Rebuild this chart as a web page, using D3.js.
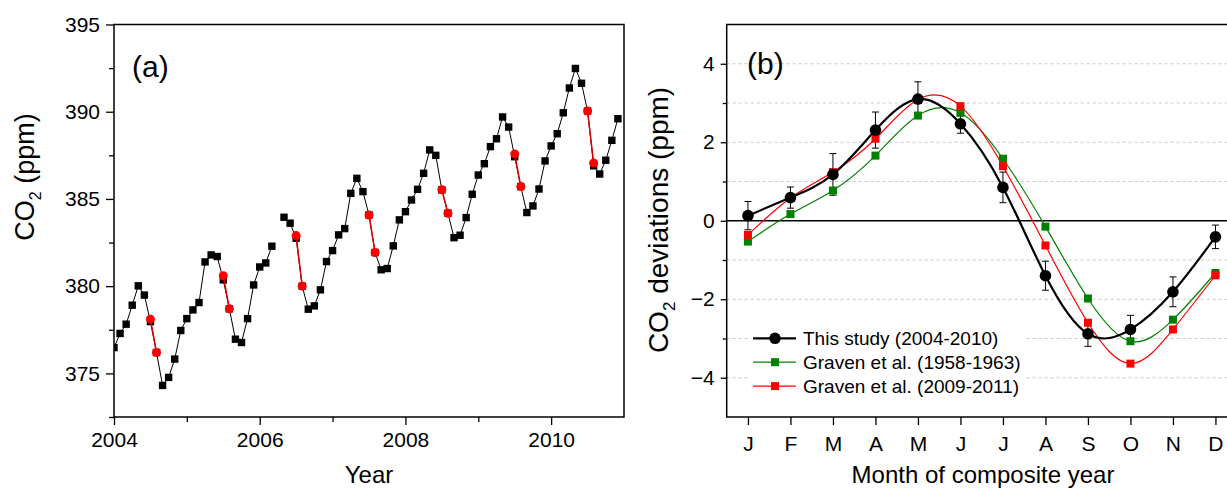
<!DOCTYPE html>
<html><head><meta charset="utf-8">
<script src="https://cdn.jsdelivr.net/npm/d3@7"></script>
<style>
html,body{margin:0;padding:0;background:#fff;}
svg{display:block;font-family:"Liberation Sans",Arial,sans-serif;}
</style></head>
<body>
<svg id="c" width="1227" height="488"></svg>
<script>
// ---------- Panel (a) data ----------
const startYear = 2004;
const co2Monthly = [
 376.48,377.29,377.82,378.91,380.02,379.49,377.97,376.20,374.31,374.77,375.82,377.46,
 378.14,378.64,379.06,381.39,381.79,381.70,380.36,378.70,376.96,376.77,378.14,380.07,
 381.10,381.33,382.29,null,383.95,383.61,382.75,380.00,378.68,378.87,379.79,381.41,
 382.04,382.94,383.30,385.32,386.18,385.42,384.08,381.93,380.94,381.01,382.31,383.80,
 384.27,384.94,385.55,386.47,387.81,387.50,385.52,384.18,382.78,382.92,383.93,385.27,
 386.37,387.02,388.00,388.45,389.70,389.12,387.42,385.71,384.22,384.60,385.57,387.18,
 388.04,388.74,389.94,391.36,392.48,391.63,390.04,386.90,386.43,387.22,388.36,389.60
];
const redMonthIndex = [[6,7],[18,19],[30,31],[42,43],[54,55],[66,67],[78,79]];
const redValues = [[378.11,376.20],[380.60,378.70],[382.90,380.00],[384.08,381.93],[385.52,384.18],[387.58,385.71],[390.04,387.06]];
const yearTicks = [2004,2006,2008,2010];
const yearMinor = [2005,2007,2009];
const co2Ticks = [375,380,385,390,395];
const co2Minor = [372.5,377.5,382.5,387.5,392.5];

// ---------- Panel (b) data ----------
const monthLabels = ["J","F","M","A","M","J","J","A","S","O","N","D"];
const thisStudy    = [0.13,0.59,1.18,2.31,3.10,2.47,0.85,-1.40,-2.88,-2.77,-1.81,-0.41];
const thisStudyErr = [0.36,0.27,0.53,0.46,0.44,0.24,0.39,0.37,0.32,0.36,0.38,0.30];
const graven1958   = [-0.53,0.17,0.77,1.66,2.68,2.75,1.58,-0.15,-1.98,-3.07,-2.52,-1.33];
const graven2009   = [-0.36,0.58,1.24,2.09,3.09,2.92,1.39,-0.63,-2.60,-3.64,-2.77,-1.39];
const devTicks = [-4,-2,0,2,4];
const devMinor = [-3,-1,1,3];
const devGrid = [-4,-3,-2,-1,1,2,3,4];
const legendLabels = ["This study (2004-2010)","Graven et al. (1958-1963)","Graven et al. (2009-2011)"];

const svg = d3.select("#c");
const FONT = 21;

function styleAxis(g){
  g.selectAll("path").remove();
  g.selectAll("line").attr("stroke","#000").attr("stroke-width",1.3);
  g.selectAll("text").attr("font-size",FONT).attr("fill","#000").attr("font-family","Liberation Sans, Arial, sans-serif");
}

// ===== Panel (a) =====
const A = {l:114, r:624, t:24.5, b:417};
const xa = d3.scaleLinear().domain([2004,2011]).range([A.l,A.r]);
const ya = d3.scaleLinear().domain([372.5,395]).range([A.b,A.t]);

svg.append("defs").append("clipPath").attr("id","clipA")
  .append("rect").attr("x",A.l).attr("y",A.t).attr("width",A.r-A.l).attr("height",A.b-A.t);

const ga = svg.append("g");
ga.append("g").attr("transform",`translate(0,${A.b})`)
  .call(d3.axisBottom(xa).tickValues(yearTicks).tickFormat(d3.format("d")).tickSize(8).tickPadding(7))
  .call(styleAxis);
ga.append("g").attr("transform",`translate(0,${A.b})`)
  .call(d3.axisBottom(xa).tickValues(yearMinor).tickFormat("").tickSize(5))
  .call(styleAxis);
ga.append("g").attr("transform",`translate(${A.l},0)`)
  .call(d3.axisLeft(ya).tickValues(co2Ticks).tickFormat(d3.format("d")).tickSize(8).tickPadding(6))
  .call(styleAxis);
ga.append("g").attr("transform",`translate(${A.l},0)`)
  .call(d3.axisLeft(ya).tickValues(co2Minor).tickFormat("").tickSize(5))
  .call(styleAxis);

const plotA = ga.append("g").attr("clip-path","url(#clipA)");
const ptsA = co2Monthly.map((v,i)=>({x:startYear+i/12, y:v}));
plotA.append("path").datum(ptsA)
  .attr("d", d3.line().defined(d=>d.y!==null).x(d=>xa(d.x)).y(d=>ya(d.y)))
  .attr("fill","none").attr("stroke","#000").attr("stroke-width",1);
plotA.selectAll("rect.sq").data(ptsA.filter(d=>d.y!==null)).enter().append("rect")
  .attr("x",d=>xa(d.x)-3.7).attr("y",d=>ya(d.y)-3.7).attr("width",7.4).attr("height",7.4).attr("fill","#000");
redMonthIndex.forEach((pair,k)=>{
  const pts = pair.map((mi,j)=>({x:startYear+mi/12, y:redValues[k][j]}));
  plotA.append("path").datum(pts).attr("d",d3.line().x(d=>xa(d.x)).y(d=>ya(d.y)))
    .attr("fill","none").attr("stroke","#e00000").attr("stroke-width",1.5);
  plotA.selectAll(null).data(pts).enter().append("circle")
    .attr("cx",d=>xa(d.x)).attr("cy",d=>ya(d.y)).attr("r",4.5).attr("fill","#ff0000");
});
ga.append("rect").attr("x",A.l).attr("y",A.t).attr("width",A.r-A.l).attr("height",A.b-A.t)
  .attr("fill","none").attr("stroke","#000").attr("stroke-width",1.5);
ga.append("text").attr("x",132).attr("y",77).attr("font-size",30).text("(a)");
ga.append("text").attr("x",(A.l+A.r)/2).attr("y",483).attr("text-anchor","middle").attr("font-size",24).text("Year");
const yla = ga.append("text").attr("transform","translate(34,177) rotate(-90)").attr("text-anchor","middle").attr("font-size",27);
yla.append("tspan").text("CO");
yla.append("tspan").attr("font-size",16).attr("dy",7).text("2");
yla.append("tspan").attr("dy",-7).text(" (ppm)");

// ===== Panel (b) =====
const B = {l:726.7, r:1236.7, t:24.5, b:417};
const xb = d3.scaleLinear().domain([0.5,12.5]).range([B.l,B.r]);
const yb = d3.scaleLinear().domain([-5,5]).range([B.b,B.t]);
const gb = svg.append("g");

gb.selectAll("line.grid").data(devGrid).enter().append("line")
  .attr("x1",B.l).attr("x2",B.r).attr("y1",d=>yb(d)).attr("y2",d=>yb(d))
  .attr("stroke","#c8c8c8").attr("stroke-width",1).attr("stroke-dasharray","3,3");
gb.append("line").attr("x1",B.l).attr("x2",B.r).attr("y1",yb(0)).attr("y2",yb(0))
  .attr("stroke","#000").attr("stroke-width",1.5);

gb.append("g").attr("transform",`translate(0,${B.b})`)
  .call(d3.axisBottom(xb).tickValues(d3.range(1,13)).tickFormat((d,i)=>monthLabels[i]).tickSize(8).tickPadding(11))
  .call(styleAxis);
gb.append("g").attr("transform",`translate(${B.l},0)`)
  .call(d3.axisLeft(yb).tickValues(devTicks).tickFormat(d3.format("d")).tickSize(6).tickPadding(6))
  .call(styleAxis);
gb.append("g").attr("transform",`translate(${B.l},0)`)
  .call(d3.axisLeft(yb).tickValues(devMinor).tickFormat("").tickSize(4))
  .call(styleAxis);
gb.append("rect").attr("x",B.l).attr("y",B.t).attr("width",B.r-B.l).attr("height",B.b-B.t)
  .attr("fill","none").attr("stroke","#000").attr("stroke-width",1.5);

const curve = d3.line().x((d,i)=>xb(i+1)).y(d=>yb(d)).curve(d3.curveNatural);
const series = [
  {vals:graven1958, color:"#008000", w:1.2},
  {vals:graven2009, color:"#ff0000", w:1.2}
];
series.forEach(s=>{
  gb.append("path").datum(s.vals).attr("d",curve).attr("fill","none").attr("stroke",s.color).attr("stroke-width",s.w);
});
gb.append("path").datum(thisStudy).attr("d",curve).attr("fill","none").attr("stroke","#000").attr("stroke-width",2.2);
// error bars
thisStudy.forEach((v,i)=>{
  const x = xb(i+1), e = thisStudyErr[i];
  gb.append("line").attr("x1",x).attr("x2",x).attr("y1",yb(v+e)).attr("y2",yb(v-e)).attr("stroke","#000").attr("stroke-width",1);
  [v+e,v-e].forEach(t=>gb.append("line").attr("x1",x-3.5).attr("x2",x+3.5).attr("y1",yb(t)).attr("y2",yb(t)).attr("stroke","#000").attr("stroke-width",1));
});
series.forEach(s=>{
  gb.selectAll(null).data(s.vals).enter().append("rect")
    .attr("x",(d,i)=>xb(i+1)-4).attr("y",d=>yb(d)-4).attr("width",8).attr("height",8).attr("fill",s.color);
});
gb.selectAll(null).data(thisStudy).enter().append("circle")
  .attr("cx",(d,i)=>xb(i+1)).attr("cy",d=>yb(d)).attr("r",5.8).attr("fill","#000");

// legend
const leg = gb.append("g");
leg.append("rect").attr("x",748).attr("y",322).attr("width",276).attr("height",76).attr("fill","#fff");
const legItems = [
  {label:legendLabels[0], color:"#000", w:2.2, shape:"circle"},
  {label:legendLabels[1], color:"#008000", w:1.2, shape:"square"},
  {label:legendLabels[2], color:"#ff0000", w:1.2, shape:"square"}
];
legItems.forEach((it,i)=>{
  const y = 338.3 + i*23.9;
  leg.append("line").attr("x1",753).attr("x2",796).attr("y1",y).attr("y2",y).attr("stroke",it.color).attr("stroke-width",it.w);
  if(it.shape==="circle") leg.append("circle").attr("cx",775).attr("cy",y).attr("r",5.8).attr("fill",it.color);
  else leg.append("rect").attr("x",771).attr("y",y-4).attr("width",8).attr("height",8).attr("fill",it.color);
  leg.append("text").attr("x",803).attr("y",y+7).attr("font-size",19).text(it.label);
});

gb.append("text").attr("x",747).attr("y",74).attr("font-size",30).text("(b)");
gb.append("text").attr("x",983).attr("y",483).attr("text-anchor","middle").attr("font-size",24).text("Month of composite year");
const ylb = gb.append("text").attr("transform","translate(668,220) rotate(-90)").attr("text-anchor","middle").attr("font-size",28);
ylb.append("tspan").text("CO");
ylb.append("tspan").attr("font-size",17).attr("dy",7).text("2");
ylb.append("tspan").attr("dy",-7).text(" deviations (ppm)");
</script>
</body></html>
